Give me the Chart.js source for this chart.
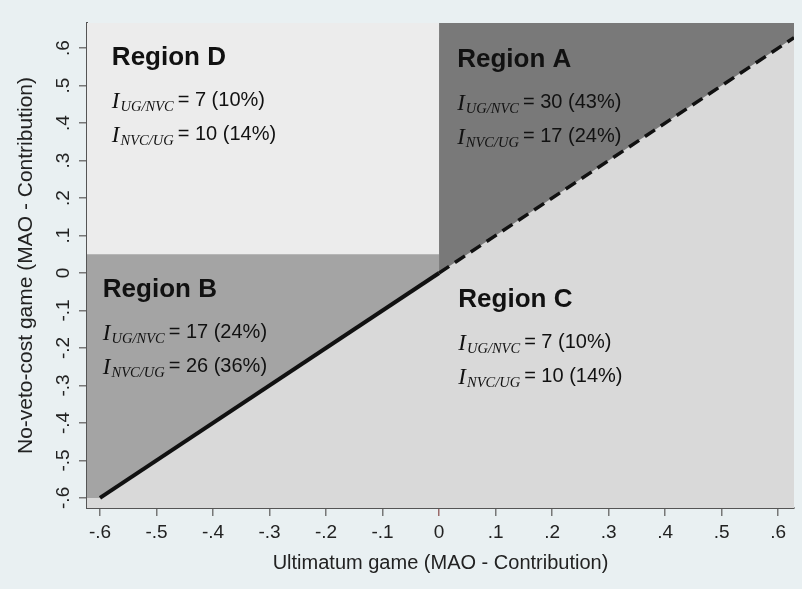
<!DOCTYPE html>
<html lang="en">
<head>
    <script src="https://cdn.jsdelivr.net/npm/chart.js@4.4.1/dist/chart.umd.min.js"></script>
    <style>
        body { margin: 0; background: #e9f0f2; }
    </style>
</head>
<body>

<canvas id="regions-chart" width="802" height="589"></canvas>

<script>
    const xTicks = [-0.6, -0.5, -0.4, -0.3, -0.2, -0.1, 0, 0.1, 0.2, 0.3, 0.4, 0.5, 0.6];
    const yTicks = [-0.6, -0.5, -0.4, -0.3, -0.2, -0.1, 0, 0.1, 0.2, 0.3, 0.4, 0.5, 0.6];
    const xRange = [-0.623, 0.628];
    const yRange = [-0.627, 0.667];
    const splitY = 0.05;
    const solidLine = [[-0.6, -0.6], [0, 0]];
    const dashedLine = [[0, 0], [0.628, 0.628]];

    const regionNames = ["Region A", "Region B", "Region C", "Region D"];
    const ugNvcCount = [30, 17, 7, 7];
    const ugNvcPct = [43, 24, 10, 10];
    const nvcUgCount = [17, 26, 10, 10];
    const nvcUgPct = [24, 36, 14, 14];
    // where each region's text block starts (data units)
    const labelAt = [[0.032, 0.549], [-0.595, -0.064], [0.034, -0.091], [-0.579, 0.555]];

    const pts = arr => arr.map(p => ({x: p[0], y: p[1]}));

    const fmtTick = v => {
        if (Math.abs(v) < 1e-9) return "0";
        return (v < 0 ? "-" : "") + Math.abs(v).toFixed(1).replace(/^0/, "");
    };

    const plotBg = {
        id: "plotBg",
        beforeDatasetsDraw(chart) {
            const {ctx, chartArea: a} = chart;
            ctx.save();
            ctx.fillStyle = "#d9d9d9";
            ctx.fillRect(a.left, a.top, a.right - a.left, a.bottom - a.top);
            ctx.restore();
        }
    };

    function drawIndex(ctx, x, y, sub, rest) {
        ctx.font = 'italic 23px "Liberation Serif"';
        ctx.fillText("I", x, y + 2);
        let w = ctx.measureText("I").width + 1;
        ctx.font = 'italic 14.5px "Liberation Serif"';
        ctx.fillText(sub, x + w, y + 5);
        w += ctx.measureText(sub).width;
        ctx.font = '20px "Liberation Sans"';
        ctx.fillText(rest, x + w + 4, y);
    }

    const regionText = {
        id: "regionText",
        afterDatasetsDraw(chart) {
            const {ctx, scales: {x, y}} = chart;
            ctx.save();
            ctx.fillStyle = "#111";
            ctx.textBaseline = "alphabetic";
            ctx.textAlign = "left";
            regionNames.forEach((name, i) => {
                const px = x.getPixelForValue(labelAt[i][0]);
                const py = y.getPixelForValue(labelAt[i][1]);
                ctx.font = 'bold 26px "Liberation Sans"';
                ctx.fillText(name, px, py);
                drawIndex(ctx, px, py + 41, "UG/NVC", "= " + ugNvcCount[i] + " (" + ugNvcPct[i] + "%)");
                drawIndex(ctx, px, py + 75, "NVC/UG", "= " + nvcUgCount[i] + " (" + nvcUgPct[i] + "%)");
            });
            ctx.restore();
        }
    };

    const areaStyle = {pointRadius: 0, borderWidth: 0, tension: 0};

    new Chart("regions-chart", {
        type: "line",
        data: {
            datasets: [
                {
                    data: pts(solidLine),
                    borderColor: "#111",
                    borderWidth: 4,
                    pointRadius: 0,
                    fill: false,
                    order: 0
                },
                {
                    data: pts(dashedLine),
                    borderColor: "#111",
                    borderWidth: 3.5,
                    borderDash: [12, 7],
                    pointRadius: 0,
                    fill: false,
                    order: 0
                },
                Object.assign({
                    // region D
                    data: [{x: xRange[0], y: yRange[1]}, {x: 0, y: yRange[1]}],
                    backgroundColor: "#ececec",
                    fill: {value: splitY},
                    order: 1
                }, areaStyle),
                Object.assign({
                    // region A
                    data: [{x: 0, y: 0}, {x: xRange[1], y: xRange[1]}],
                    backgroundColor: "#797979",
                    fill: "end",
                    order: 2
                }, areaStyle),
                Object.assign({
                    // region B
                    data: [{x: xRange[0], y: solidLine[0][1]}].concat(pts(solidLine)),
                    backgroundColor: "#a4a4a4",
                    fill: "end",
                    order: 3
                }, areaStyle)
            ]
        },
        options: {
            responsive: false,
            animation: false,
            devicePixelRatio: 1,
            layout: {padding: {top: 23, right: 8, left: 0, bottom: 0}},
            plugins: {legend: {display: false}, tooltip: {enabled: false}},
            scales: {
                x: {
                    type: "linear",
                    min: xRange[0],
                    max: xRange[1],
                    z: 1,
                    afterBuildTicks: axis => { axis.ticks = xTicks.map(v => ({value: v})); },
                    afterFit: axis => { axis.height = 81; },
                    grid: {
                        drawOnChartArea: false,
                        tickLength: 8,
                        color: ctx => (ctx.tick && ctx.tick.value === 0 ? "#9a6a6a" : "#777"),
                        lineWidth: 1.5
                    },
                    border: {color: "#555", width: 2},
                    ticks: {
                        callback: fmtTick,
                        maxRotation: 0,
                        autoSkip: false,
                        padding: 5,
                        color: "#222",
                        font: {family: '"Liberation Sans", Arial', size: 19}
                    },
                    title: {
                        display: true,
                        text: "Ultimatum game (MAO - Contribution)",
                        color: "#222",
                        font: {family: '"Liberation Sans", Arial', size: 20},
                        padding: {top: 0, bottom: 14}
                    }
                },
                y: {
                    type: "linear",
                    min: yRange[0],
                    max: yRange[1],
                    z: 1,
                    afterBuildTicks: axis => { axis.ticks = yTicks.map(v => ({value: v})); },
                    afterFit: axis => { axis.width = 87; },
                    grid: {drawOnChartArea: false, tickLength: 8, color: "#777", lineWidth: 1.5},
                    border: {color: "#555", width: 2},
                    ticks: {
                        callback: fmtTick,
                        minRotation: 90,
                        maxRotation: 90,
                        crossAlign: "center",
                        autoSkip: false,
                        padding: 4,
                        color: "#222",
                        font: {family: '"Liberation Sans", Arial', size: 19}
                    },
                    title: {
                        display: true,
                        text: "No-veto-cost game (MAO - Contribution)",
                        color: "#222",
                        font: {family: '"Liberation Sans", Arial', size: 21},
                        padding: {top: 14, bottom: 0}
                    }
                }
            }
        },
        plugins: [plotBg, regionText]
    });
</script>

</body>
</html>
